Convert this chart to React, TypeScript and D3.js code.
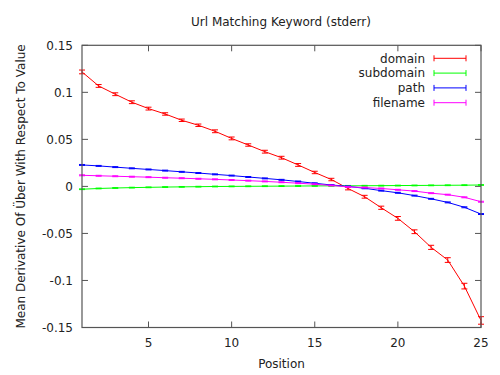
import React from "react";
import * as d3 from "d3";

const positions = [1,2,3,4,5,6,7,8,9,10,11,12,13,14,15,16,17,18,19,20,21,22,23,24,25];

const domainVals = [0.1217,0.1068,0.098,0.0895,0.0827,0.077,0.0703,0.065,0.0586,0.051,0.044,0.0369,0.0305,0.0228,0.0148,0.0073,-0.0022,-0.011,-0.0227,-0.034,-0.0482,-0.0648,-0.0783,-0.106,-0.1425];
const domainErr = [0.002,0.0015,0.0015,0.0015,0.0015,0.0013,0.0013,0.0013,0.0015,0.0015,0.0013,0.0015,0.0015,0.0015,0.0013,0.0013,0.0015,0.0015,0.0017,0.002,0.002,0.0022,0.0025,0.003,0.004];

const subdomainVals = [-0.003,-0.0022,-0.0017,-0.0013,-0.001,-0.0007,-0.0005,-0.0003,-0.0001,0,0.0001,0.0002,0.0003,0.0004,0.0005,0.0006,0.0006,0.0007,0.0008,0.0009,0.001,0.0011,0.0012,0.0013,0.0015];
const subdomainErr = positions.map(() => 0.0004);

const pathVals = [0.0228,0.0218,0.0205,0.0192,0.018,0.0168,0.0155,0.0142,0.0128,0.0115,0.01,0.0085,0.007,0.0052,0.0033,0.0015,0,-0.002,-0.0045,-0.0068,-0.0098,-0.0132,-0.017,-0.0222,-0.0294];
const pathErr = positions.map(() => 0.0005);

const filenameVals = [0.0118,0.0113,0.0108,0.0103,0.0098,0.0092,0.0087,0.0081,0.0075,0.0068,0.0061,0.0053,0.0044,0.0034,0.0023,0.001,-0.0005,-0.0012,-0.0022,-0.0036,-0.005,-0.0072,-0.0088,-0.0116,-0.0163];
const filenameErr = positions.map(() => 0.0005);

const seriesNames = ["domain", "subdomain", "path", "filename"];
const seriesColors = ["#ff0000", "#00ff00", "#0000ff", "#ff00ff"];
const seriesValues = [domainVals, subdomainVals, pathVals, filenameVals];
const seriesErrors = [domainErr, subdomainErr, pathErr, filenameErr];

const xTicks = [5, 10, 15, 20, 25];
const yTicks = [-0.15, -0.1, -0.05, 0, 0.05, 0.1, 0.15];
const yTickLabels = ["-0.15", "-0.1", "-0.05", "0", "0.05", "0.1", "0.15"];

const title = "Url Matching Keyword (stderr)";
const xLabel = "Position";
const yLabel = "Mean Derivative Of Über With Respect To Value";

export default function App() {
  const W = 500, H = 375;
  const L = 82, R = 481, T = 45.3, B = 327.5;
  const x = d3.scaleLinear().domain([1, 25]).range([L, R]);
  const y = d3.scaleLinear().domain([-0.15, 0.15]).range([B, T]);
  const font = "DejaVu Sans, sans-serif";
  const frame = "#555";
  const tickLen = 6;
  const cap = 3;

  const line = d3.line<number>().x((_, i) => x(positions[i])).y((v) => y(v));

  return (
    <svg width={W} height={H} style={{ position: "absolute", left: 0, top: 0, background: "#fff" }}
      fontFamily={font}>
      <rect x={0} y={0} width={W} height={H} fill="#fff" />
      <text x={281} y={26} fontSize={12} textAnchor="middle" fill="#222">{title}</text>

      {/* ticks */}
      {xTicks.map((t) => (
        <g key={"xt" + t}>
          <line x1={x(t)} x2={x(t)} y1={B} y2={B - tickLen} stroke={frame} />
          <line x1={x(t)} x2={x(t)} y1={T} y2={T + tickLen} stroke={frame} />
          <text x={x(t)} y={347} fontSize={12} textAnchor="middle" fill="#222">{t}</text>
        </g>
      ))}
      {yTicks.map((t, i) => (
        <g key={"yt" + t}>
          <line x1={L} x2={L + tickLen} y1={y(t)} y2={y(t)} stroke={frame} />
          <line x1={R} x2={R - tickLen} y1={y(t)} y2={y(t)} stroke={frame} />
          <text x={73} y={y(t) + 4.3} fontSize={12} textAnchor="end" fill="#222">{yTickLabels[i]}</text>
        </g>
      ))}

      {/* series */}
      {seriesValues.map((vals, si) => (
        <g key={seriesNames[si]}>
          <path d={line(vals) || ""} fill="none" stroke={seriesColors[si]} strokeWidth={1} />
          {vals.map((v, i) => {
            const cx = x(positions[i]);
            const e = seriesErrors[si][i];
            const y1 = y(v + e), y2 = y(v - e);
            return (
              <g key={i} stroke={seriesColors[si]} strokeWidth={1}>
                <line x1={cx} x2={cx} y1={y1} y2={y2} />
                <line x1={cx - cap} x2={cx + cap} y1={y1} y2={y1} />
                <line x1={cx - cap} x2={cx + cap} y1={y2} y2={y2} />
              </g>
            );
          })}
        </g>
      ))}

      {/* frame */}
      <rect x={L} y={T} width={R - L} height={B - T} fill="none" stroke={frame} strokeWidth={1.2} />

      {/* legend */}
      {seriesNames.map((n, i) => {
        const ly = 58.3 + i * 14.8;
        return (
          <g key={"lg" + n}>
            <text x={425} y={ly + 4.3} fontSize={12} textAnchor="end" fill="#222">{n}</text>
            <g stroke={seriesColors[i]} strokeWidth={1}>
              <line x1={434} x2={466} y1={ly} y2={ly} />
              <line x1={434} x2={434} y1={ly - cap} y2={ly + cap} />
              <line x1={466} x2={466} y1={ly - cap} y2={ly + cap} />
            </g>
          </g>
        );
      })}

      <text x={281.5} y={368} fontSize={12} textAnchor="middle" fill="#222">{xLabel}</text>
      <text transform={`translate(24.5, ${(T + B) / 2}) rotate(-90)`} fontSize={12} textAnchor="middle" fill="#222">{yLabel}</text>
    </svg>
  );
}
